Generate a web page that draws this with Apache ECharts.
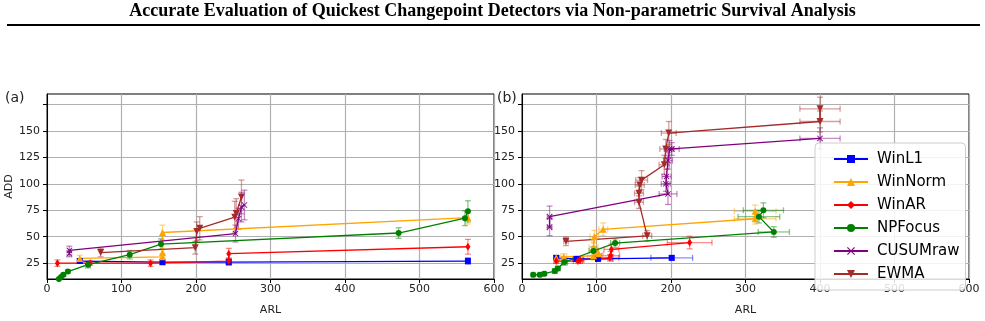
<!DOCTYPE html>
<html>
<head>
<meta charset="utf-8">
<script src="https://cdn.jsdelivr.net/npm/echarts@6.0.0/dist/echarts.min.js"></script>
<style>
  html, body { margin: 0; padding: 0; background: #fff; }
  #chart { width: 985px; height: 321px; }
</style>
</head>
<body>
<div id="chart"></div>
<script>
// methods, in legend order
const methods = ['WinL1', 'WinNorm', 'WinAR', 'NPFocus', 'CUSUMraw', 'EWMA'];
const xTicks = [0, 100, 200, 300, 400, 500, 600];
const yTicks = [25, 50, 75, 100, 125, 150, 175];
const yLabels = [25, 50, 75, 100, 125, 150];

// rows are [ARL, ADD, ARL err, ADD err]
// panel (a)
const aWinL1 = [[44, 27, 0, 2], [155, 26, 0, 2.5], [244, 26, 0, 3], [565, 27, 0, 3]];
const aWinNorm = [[44, 29.5, 0, 3], [155, 31, 0, 3], [155, 35, 0, 4], [155, 54, 0, 7], [565, 68, 0, 6]];
const aWinAR = [[14, 25, 0, 3], [58, 25, 0, 2], [139, 25, 0, 3], [244, 27, 0, 3], [244, 34, 0, 5], [565, 40.5, 0, 7]];
const aNPFocus = [[16, 10, 0, 1], [19, 12, 0, 1], [22, 14, 0, 1.5], [28, 17, 0, 1.5], [55, 23.5, 0, 3], [111, 33, 0, 4],
  [153, 43, 0, 5], [472, 53.5, 0, 5], [561, 67.5, 0, 7], [565, 74, 0, 10]];
const aCUSUMraw = [[30, 34, 0, 3], [30, 37, 0, 4], [253, 53, 0, 8], [257, 67, 0, 10], [261, 78, 0, 14], [265, 80, 0, 14]];
const aEWMA = [[72, 35, 0, 4], [199, 39.6, 0, 6], [201, 55, 0, 9], [205, 58, 0, 11], [252, 68.5, 0, 15], [254, 72, 0, 14],
  [261, 87.6, 0, 16]];

// panel (b)
const bWinL1 = [[46, 30, 3, 2], [73, 29, 5, 2], [102, 29, 20, 2], [201, 30, 28, 2]];
const bWinNorm = [[46, 30, 3, 2], [56, 31, 4, 3], [96, 32, 8, 4], [103, 34, 6, 5], [96, 40, 6, 5], [97, 50, 6, 6],
  [109, 57, 6, 6], [313, 67, 28, 5], [313, 74, 28, 6]];
const bWinAR = [[46, 27, 3, 2], [75, 27, 6, 2], [78, 28, 5, 3], [118, 30, 12, 3], [119, 32, 12, 4], [120, 38, 10, 5],
  [225, 44.5, 30, 6]];
const bNPFocus = [[15, 14, 2, 1.5], [24, 14, 2, 1.5], [30, 15, 2, 1.5], [44, 17.5, 3, 2], [48, 20, 3, 2], [57, 26, 4, 3],
  [96, 36.5, 6, 4], [125, 44, 6, 4], [338, 54.5, 21, 5], [318, 69, 28, 6], [324, 75, 27, 7]];
const bCUSUMraw = [[37, 59, 3, 8], [37, 69, 3, 10], [196, 90.5, 12, 10], [193, 100, 6, 7], [194, 107, 6, 7],
  [196, 122, 6, 8], [198, 133, 6, 8], [201, 133, 10, 6], [400, 143, 27, 10]];
const bEWMA = [[59, 45.6, 3, 4], [168, 50.8, 6, 5], [157, 82.7, 6, 6], [157, 91, 6, 7], [158, 99, 6, 7],
  [160.5, 103.5, 8, 9], [191, 118, 7, 9], [193, 133, 8, 9], [197, 148, 10, 11], [400, 159, 27, 10], [400, 171, 27, 11]];

const panelA = [aWinL1, aWinNorm, aWinAR, aNPFocus, aCUSUMraw, aEWMA];
const panelB = [bWinL1, bWinNorm, bWinAR, bNPFocus, bCUSUMraw, bEWMA];

const colors = ['#0000ff', '#ffa500', '#ff0000', '#008000', '#800080', '#a52a2a'];
const symbols = [
  'rect',
  'triangle',
  'path://M3,0L6,5L3,10L0,5Z',
  'circle',
  'path://M0,1L1,0L5,4L9,0L10,1L6,5L10,9L9,10L5,6L1,10L0,9L4,5Z',
  'triangle'
];
const symbolSizes = [6, 7, [5, 8], 6, 6, 7];
const symbolRotates = [0, 0, 0, 0, 0, 180];

const font = 'DejaVu Sans';

function errorBars(params, api) {
  const x = api.value(0), y = api.value(1), ex = api.value(2), ey = api.value(3);
  const color = api.visual('color');
  const style = { stroke: color, lineWidth: 1.3, opacity: 0.45 };
  const cap = 3;
  const kids = [];
  const lo = api.coord([x, y - ey]), hi = api.coord([x, y + ey]);
  kids.push({ type: 'line', shape: { x1: lo[0], y1: lo[1], x2: hi[0], y2: hi[1] }, style: style });
  kids.push({ type: 'line', shape: { x1: lo[0] - cap, y1: lo[1], x2: lo[0] + cap, y2: lo[1] }, style: style });
  kids.push({ type: 'line', shape: { x1: hi[0] - cap, y1: hi[1], x2: hi[0] + cap, y2: hi[1] }, style: style });
  if (ex > 0) {
    const le = api.coord([x - ex, y]), ri = api.coord([x + ex, y]);
    kids.push({ type: 'line', shape: { x1: le[0], y1: le[1], x2: ri[0], y2: ri[1] }, style: style });
    kids.push({ type: 'line', shape: { x1: le[0], y1: le[1] - cap, x2: le[0], y2: le[1] + cap }, style: style });
    kids.push({ type: 'line', shape: { x1: ri[0], y1: ri[1] - cap, x2: ri[0], y2: ri[1] + cap }, style: style });
  }
  return { type: 'group', children: kids };
}

function makeXAxis(i) {
  return {
    type: 'value', gridIndex: i, min: 0, max: 600, interval: 100,
    name: 'ARL', nameLocation: 'middle', nameGap: 26,
    nameTextStyle: { fontFamily: font, fontSize: 11, color: '#222' },
    axisLine: { lineStyle: { color: '#000', width: 1 } },
    axisTick: { length: 4, lineStyle: { color: '#000' } },
    axisLabel: { fontFamily: font, fontSize: 11, color: '#222', margin: 5 },
    splitLine: { lineStyle: { color: '#b0b0b0', width: 1.2 } }
  };
}

function makeYAxis(i) {
  return {
    type: 'value', gridIndex: i, min: 10, max: 185,
    name: i === 0 ? 'ADD' : '', nameLocation: 'middle', nameGap: 26, nameRotate: 90,
    nameTextStyle: { fontFamily: font, fontSize: 11, color: '#222' },
    axisLine: { show: true, lineStyle: { color: '#000', width: 1 } },
    axisTick: { show: true, length: 4, lineStyle: { color: '#000' }, customValues: yTicks },
    axisLabel: { fontFamily: font, fontSize: 11, color: '#222', margin: 7, customValues: yLabels },
    splitLine: { lineStyle: { color: '#b0b0b0', width: 1.2 } }
  };
}

const series = [];
[panelA, panelB].forEach((panel, p) => {
  panel.forEach((rows, k) => {
    series.push({
      name: methods[k] + ' err ' + p,
      type: 'custom',
      xAxisIndex: p, yAxisIndex: p,
      renderItem: errorBars,
      clip: true,
      itemStyle: { color: colors[k] },
      encode: { x: 0, y: 1 },
      data: rows,
      z: 2,
      silent: true
    });
    series.push({
      name: methods[k],
      type: 'line',
      xAxisIndex: p, yAxisIndex: p,
      data: rows.map(r => [r[0], r[1]]),
      symbol: symbols[k],
      symbolSize: symbolSizes[k],
      symbolRotate: symbolRotates[k],
      showAllSymbol: true,
      color: colors[k],
      itemStyle: { color: colors[k] },
      lineStyle: { color: colors[k], width: 1.3 },
      clip: true,
      z: 3,
      animation: false
    });
  });
});

const chart = echarts.init(document.getElementById('chart'), null, { renderer: 'canvas' });
chart.setOption({
  animation: false,
  backgroundColor: '#fff',
  grid: [
    { left: 47, width: 447, top: 94, height: 192, show: true, borderColor: '#000', borderWidth: 1 },
    { left: 522, width: 447, top: 94, height: 192, show: true, borderColor: '#000', borderWidth: 1 }
  ],
  xAxis: [makeXAxis(0), makeXAxis(1)],
  yAxis: [makeYAxis(0), makeYAxis(1)],
  legend: {
    data: methods,
    orient: 'vertical',
    left: 815, top: 143,
    padding: [6, 6, 6, 18],
    itemGap: 3,
    itemWidth: 34, itemHeight: 10,
    backgroundColor: 'rgba(255,255,255,0.85)',
    borderColor: '#cccccc', borderWidth: 1, borderRadius: 4,
    textStyle: { fontFamily: font, fontSize: 15, color: '#000', lineHeight: 20, padding: [0, 0, 0, 4] }
  },
  graphic: [
    {
      type: 'text', left: 'center', top: 2,
      style: { text: 'Accurate Evaluation of Quickest Changepoint Detectors via Non-parametric Survival Analysis',
        font: 'bold 18px "Liberation Serif"', fill: '#000' }
    },
    { type: 'line', shape: { x1: 7, y1: 25, x2: 980, y2: 25 }, style: { stroke: '#000', lineWidth: 2 } },
    { type: 'text', left: 5, top: 91, style: { text: '(a)', font: '14px "DejaVu Sans"', fill: '#222' } },
    { type: 'text', left: 497, top: 91, style: { text: '(b)', font: '14px "DejaVu Sans"', fill: '#222' } }
  ],
  series: series
});
</script>
</body>
</html>
